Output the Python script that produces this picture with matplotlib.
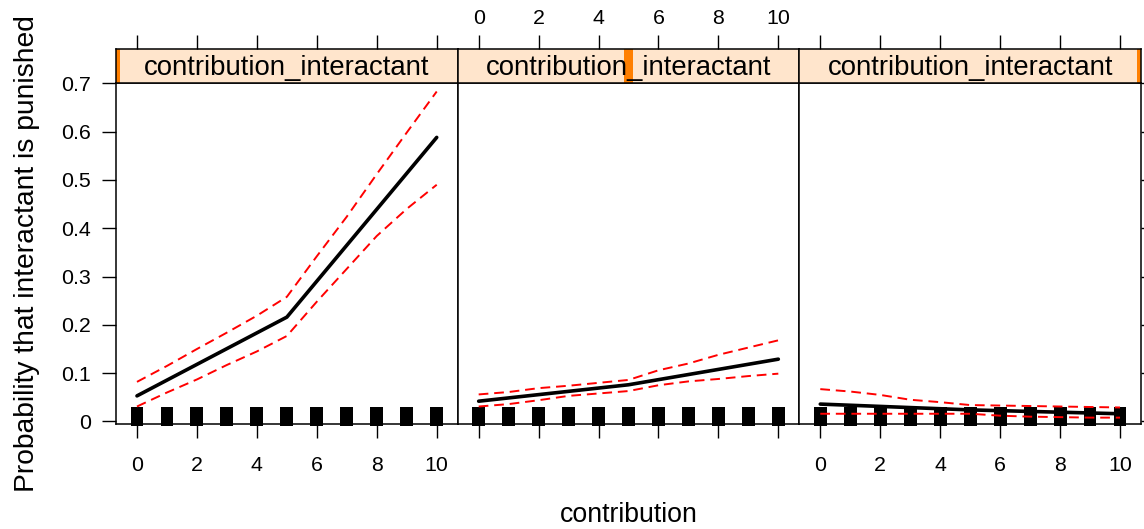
import numpy as np
import matplotlib
matplotlib.use("Agg")
import matplotlib.pyplot as plt
import matplotlib.transforms as mtransforms
from matplotlib.patches import Rectangle

plt.rcParams["font.family"] = ["Liberation Sans", "DejaVu Sans"]

# ---- data -------------------------------------------------------------
contribution = [0, 1, 2, 3, 4, 5, 6, 7, 8, 9, 10]
fit_x = [0, 5, 10]
tick_values = [0, 2, 4, 6, 8, 10]
y_ticks = [0, 0.1, 0.2, 0.3, 0.4, 0.5, 0.6, 0.7]
y_tick_labels = ["0", "0.1", "0.2", "0.3", "0.4", "0.5", "0.6", "0.7"]

# conditioning levels of contribution_interactant (low / middle / high)
interactant_level = [0, 5, 10]
interactant_range = [0, 10]

fit_low = [0.053, 0.216, 0.588]
upper_low = [0.082, 0.115, 0.150, 0.184, 0.219, 0.258, 0.342, 0.424, 0.512, 0.598, 0.683]
lower_low = [0.031, 0.060, 0.087, 0.117, 0.145, 0.177, 0.248, 0.316, 0.384, 0.440, 0.490]

fit_mid = [0.042, 0.076, 0.129]
upper_mid = [0.056, 0.061, 0.069, 0.074, 0.080, 0.086, 0.106, 0.120, 0.138, 0.153, 0.168]
lower_mid = [0.031, 0.036, 0.044, 0.053, 0.058, 0.063, 0.075, 0.083, 0.088, 0.094, 0.099]

fit_high = [0.036, 0.024, 0.016]
upper_high = [0.067, 0.062, 0.055, 0.045, 0.040, 0.034, 0.033, 0.032, 0.031, 0.030, 0.029]
lower_high = [0.016, 0.016, 0.016, 0.016, 0.016, 0.016, 0.012, 0.010, 0.009, 0.008, 0.008]

fits = [fit_low, fit_mid, fit_high]
uppers = [upper_low, upper_mid, upper_high]
lowers = [lower_low, lower_mid, lower_high]

strip_label = "contribution_interactant"
x_label = "contribution"
y_label = "Probability that interactant is punished"

# ---- layout -----------------------------------------------------------
W, H = 1144, 529
fig = plt.figure(figsize=(W / 100, H / 100), dpi=100)


def box(x0, y0, x1, y1):
    return [x0 / W, 1 - y1 / H, (x1 - x0) / W, (y1 - y0) / H]


panel_edges = [(116, 457.7), (457.7, 799.3), (799.3, 1141)]
panel_top, panel_bottom, strip_top = 83, 424, 49
xlim = (-0.7, 10.7)
ylim = (-0.0052, 0.7006)

tick_fs = 15.4
label_fs = 19.2
strip_fs = 19.8
strip_bg = "#ffe5cc"
strip_fg = "#ff7f00"
rug_width = 0.43     # in data units of contribution
rug_bottom = -0.005  # fraction of the panel height
rug_top = 0.049

for i, (x0, x1) in enumerate(panel_edges):
    ax = fig.add_axes(box(x0, panel_top, x1, panel_bottom))
    ax.set_xlim(*xlim)
    ax.set_ylim(*ylim)

    # rug of observed contributions
    rug_tr = mtransforms.blended_transform_factory(ax.transData, ax.transAxes)
    for c in contribution:
        ax.add_patch(Rectangle((c - rug_width / 2, rug_bottom), rug_width,
                               rug_top - rug_bottom, transform=rug_tr,
                               facecolor="black", edgecolor="none",
                               clip_on=False, zorder=1))

    ax.plot(contribution, uppers[i], color="red", lw=1.4, dashes=(5, 3), zorder=2)
    ax.plot(contribution, lowers[i], color="red", lw=1.4, dashes=(5, 3), zorder=2)
    ax.plot(fit_x, fits[i], color="black", lw=2.6, solid_capstyle="round",
            solid_joinstyle="round", zorder=3)

    ax.set_xticks(tick_values)
    ax.set_xticklabels([str(v) for v in tick_values])
    ax.set_yticks(y_ticks)
    ax.set_yticklabels(y_tick_labels)
    ax.tick_params(axis="both", direction="out", length=10, width=1.0,
                   labelsize=tick_fs, colors="black")
    ax.tick_params(axis="x", top=False, bottom=True, labelbottom=(i != 1), pad=13)
    ax.tick_params(axis="y", left=(i == 0), labelleft=(i == 0),
                   right=(i == 2), labelright=False, pad=8)
    for s in ax.spines.values():
        s.set_linewidth(1.1)

    # strip with the level indicator
    sax = fig.add_axes(box(x0, strip_top, x1, panel_top))
    sax.set_xlim(*xlim)
    sax.set_ylim(0, 1)
    sax.set_facecolor(strip_bg)
    frac = (interactant_level[i] - interactant_range[0]) / (interactant_range[1] - interactant_range[0])
    sax.add_patch(Rectangle((frac - 0.012, 0), 0.024, 1, transform=sax.transAxes,
                            facecolor=strip_fg, edgecolor="none", clip_on=True))
    sax.text(0.5, 0.45, strip_label, transform=sax.transAxes, ha="center",
             va="center", fontsize=strip_fs)
    sax.set_xticks(tick_values)
    sax.set_xticklabels([str(v) for v in tick_values])
    sax.set_yticks([])
    sax.tick_params(axis="x", direction="out", length=10, width=1.0,
                    labelsize=tick_fs, bottom=False, labelbottom=False,
                    top=True, labeltop=(i == 1), pad=5)
    for s in sax.spines.values():
        s.set_linewidth(1.1)

fig.text(629 / W, 1 - 515 / H, x_label, ha="center", va="center", fontsize=label_fs)
fig.text(27 / W, 1 - 253.5 / H, y_label, ha="center", va="center",
         rotation=90, fontsize=20.3)

fig.savefig("out.png", dpi=100)
